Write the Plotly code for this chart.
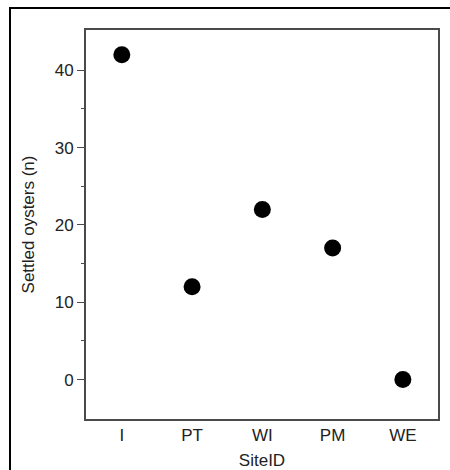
import plotly.graph_objects as go

# Data
sites = ["I", "PT", "WI", "PM", "WE"]
settled = [42, 12, 22, 17, 0]

y_ticks = [0, 10, 20, 30, 40]
y_minor_ticks = [5, 15, 25, 35]

FONT = "Liberation Sans, Arial, sans-serif"
AXIS_COLOR = "#4a4a4a"
TEXT_COLOR = "#222222"

fig = go.Figure()
fig.add_trace(go.Scatter(
    x=sites, y=settled, mode="markers",
    marker=dict(color="black", size=17, line=dict(width=0)),
    showlegend=False,
))

# Plot area geometry (pixels) used for outer frame in paper coordinates
L, R, T, B = 86, 12, 30, 51
W, H = 450, 470
pw, ph = W - L - R, H - T - B

def px_x(px):
    return (px - L) / pw

def px_y(py):
    return (H - B - py) / ph

fig.update_layout(
    width=W, height=H,
    margin=dict(l=L, r=R, t=T, b=B, pad=0),
    paper_bgcolor="white", plot_bgcolor="white",
    font=dict(family=FONT, size=17, color=TEXT_COLOR),
    xaxis=dict(
        type="category",
        categoryorder="array", categoryarray=sites,
        range=[-0.51, 4.5],
        automargin=False,
        showgrid=False, zeroline=False,
        showline=True, linecolor=AXIS_COLOR, linewidth=2, mirror=True,
        ticks="",
        tickfont=dict(family=FONT, size=17, color=TEXT_COLOR),
        title=dict(text="SiteID", font=dict(family=FONT, size=17, color=TEXT_COLOR), standoff=12),
    ),
    yaxis=dict(
        range=[-5.1, 45.2],
        tickvals=y_ticks,
        automargin=False,
        showgrid=False, zeroline=False,
        showline=True, linecolor=AXIS_COLOR, linewidth=2, mirror=True,
        ticks="outside", ticklen=7, tickwidth=1, tickcolor=AXIS_COLOR,
        minor=dict(tickvals=y_minor_ticks, ticks="outside", ticklen=3, tickwidth=1, tickcolor=AXIS_COLOR),
        tickfont=dict(family=FONT, size=17, color=TEXT_COLOR),
        title=dict(text="Settled oysters (n)", font=dict(family=FONT, size=17, color=TEXT_COLOR), standoff=16),
    ),
    shapes=[
        dict(type="rect", xref="paper", yref="paper",
             x0=px_x(10), x1=px_x(470), y0=px_y(490), y1=px_y(8),
             line=dict(color="black", width=2), fillcolor="rgba(0,0,0,0)", layer="above"),
    ],
)

fig.write_html("out.html")
